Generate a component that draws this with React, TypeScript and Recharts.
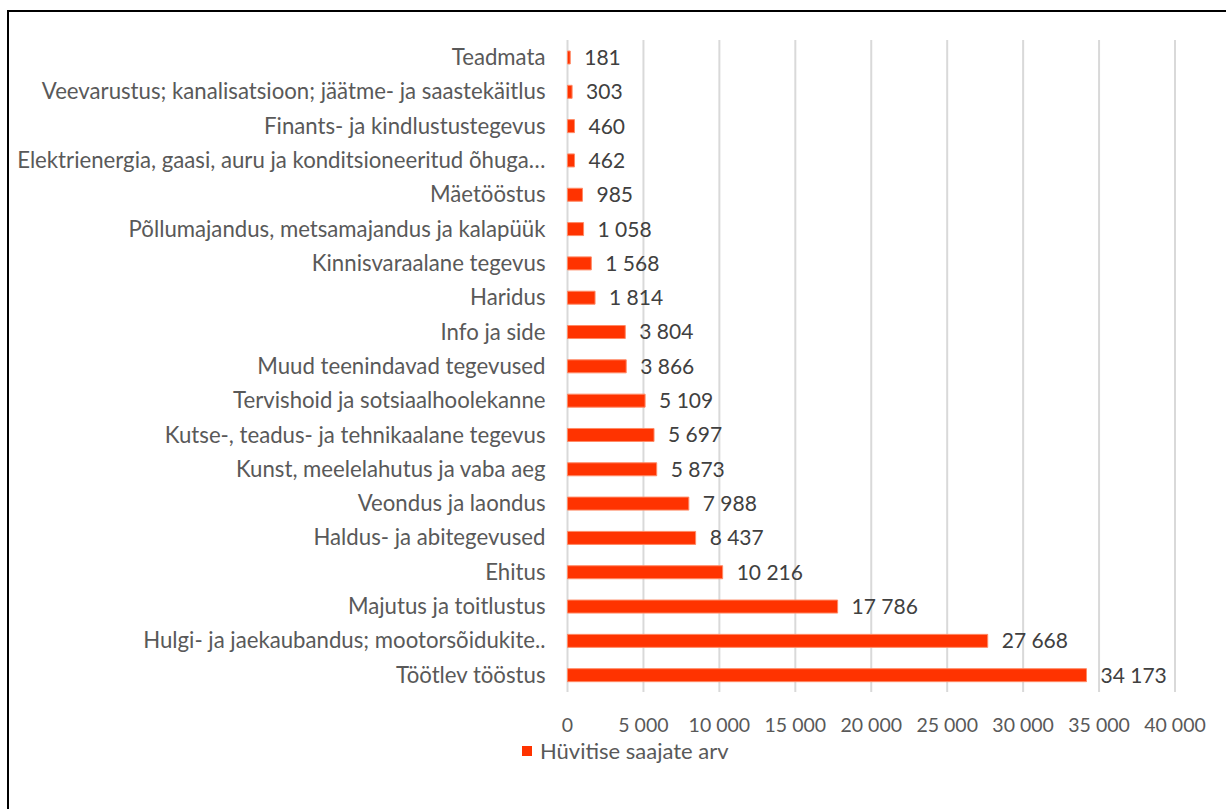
import React from "react";
import {
  BarChart,
  Bar,
  XAxis,
  YAxis,
  CartesianGrid,
  Legend,
  LabelList,
} from "recharts";

// tegevusalad ülevalt alla
const categories = [
  "Teadmata",
  "Veevarustus; kanalisatsioon; jäätme- ja saastekäitlus",
  "Finants- ja kindlustustegevus",
  "Elektrienergia, gaasi, auru ja konditsioneeritud õhuga…",
  "Mäetööstus",
  "Põllumajandus, metsamajandus ja kalapüük",
  "Kinnisvaraalane tegevus",
  "Haridus",
  "Info ja side",
  "Muud teenindavad tegevused",
  "Tervishoid ja sotsiaalhoolekanne",
  "Kutse-, teadus- ja tehnikaalane tegevus",
  "Kunst, meelelahutus ja vaba aeg",
  "Veondus ja laondus",
  "Haldus- ja abitegevused",
  "Ehitus",
  "Majutus ja toitlustus",
  "Hulgi- ja jaekaubandus; mootorsõidukite..",
  "Töötlev tööstus",
];

const recipients = [
  181, 303, 460, 462, 985, 1058, 1568, 1814, 3804, 3866, 5109, 5697, 5873,
  7988, 8437, 10216, 17786, 27668, 34173,
];

const xTicks = [0, 5000, 10000, 15000, 20000, 25000, 30000, 35000, 40000];

const seriesName = "Hüvitise saajate arv";

const data = categories.map((name, i) => ({ name, value: recipients[i] }));

const fmt = (v: number) =>
  String(v).replace(/\B(?=(\d{3})+(?!\d))/g, " ");

const FONT = "Lato, 'Noto Sans', sans-serif";
const BAR = "#FF3300";

const LegendContent = () => (
  <div
    style={{
      display: "flex",
      alignItems: "center",
      fontFamily: FONT,
      fontSize: 22,
      color: "#595959",
      whiteSpace: "nowrap",
    }}
  >
    <span
      style={{
        display: "inline-block",
        width: 10,
        height: 10,
        background: BAR,
        marginRight: 8,
      }}
    />
    {seriesName}
  </div>
);

export default function App() {
  return (
    <div
      style={{
        position: "absolute",
        top: 0,
        left: 0,
        width: 1226,
        height: 809,
        overflow: "hidden",
        background: "#fff",
      }}
    >
      <div
        style={{
          position: "absolute",
          left: 7,
          top: 10,
          width: 1240,
          height: 830,
          border: "2px solid #000",
        }}
      />
      <BarChart
        width={1226}
        height={809}
        data={data}
        layout="vertical"
        margin={{ top: 40, right: 51, bottom: 57, left: 0 }}
        barSize={13}
      >
        <CartesianGrid
          horizontal={false}
          stroke="#d9d9d9"
          strokeWidth={2}
        />
        <XAxis
          type="number"
          domain={[0, 40000]}
          ticks={xTicks}
          tickFormatter={fmt}
          axisLine={false}
          tickLine={false}
          tickSize={0}
          tickMargin={26}
          height={60}
          interval={0}
          tick={{ fill: "#595959", fontSize: 19.5, fontFamily: FONT }}
        />
        <YAxis
          type="category"
          dataKey="name"
          width={567.5}
          axisLine={false}
          tickLine={false}
          tickSize={0}
          tickMargin={22}
          interval={0}
          tick={{ fill: "#595959", fontSize: 22.2, fontFamily: FONT }}
        />
        <Legend
          verticalAlign="middle"
          layout="horizontal"
          wrapperStyle={{ top: 737, left: 522, width: 300 }}
          content={<LegendContent />}
        />
        <Bar
          dataKey="value"
          name={seriesName}
          fill={BAR}
          stroke="#FF8A66"
          strokeWidth={1}
          isAnimationActive={false}
        >
          <LabelList
            dataKey="value"
            position="right"
            offset={14}
            formatter={(v: number) => fmt(v)}
            style={{ fill: "#404040", fontSize: 21, fontFamily: FONT }}
          />
        </Bar>
      </BarChart>
    </div>
  );
}
